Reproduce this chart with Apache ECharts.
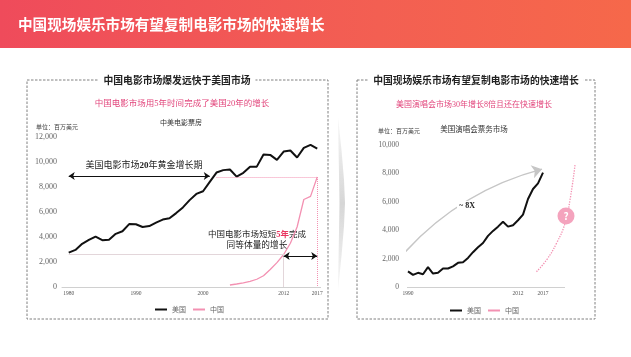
<!DOCTYPE html>
<html><head><meta charset="utf-8">
<script src="https://cdn.jsdelivr.net/npm/echarts@6/dist/echarts.min.js"></script>
<style>html,body{margin:0;padding:0;background:#fff}#c{width:631px;height:357px}</style>
</head><body><div id="c"></div>
<script>
// ---- Left chart: 中美电影票房 (百万美元) ----
const filmYearsUS = [1980,1981,1982,1983,1984,1985,1986,1987,1988,1989,1990,1991,1992,1993,1994,1995,1996,1997,1998,1999,2000,2001,2002,2003,2004,2005,2006,2007,2008,2009,2010,2011,2012,2013,2014,2015,2016,2017];
const filmUS = [2749,2966,3453,3766,4031,3749,3778,4253,4458,5033,5022,4803,4871,5154,5396,5494,5912,6366,6949,7448,7661,8413,9155,9350,9400,8832,9138,9629,9630,10595,10566,10174,10837,10924,10357,11129,11377,11072];
const filmYearsCN = [2004,2005,2006,2007,2008,2009,2010,2011,2012,2013,2014,2015,2016,2017];
const filmCN = [160,240,330,450,620,900,1400,1950,2600,3500,4800,7000,7250,8800];
const filmXTicks = [1980,1990,2000,2012,2017];

// ---- Right chart: 美国演唱会票务市场 (百万美元) ----
const liveYearsUS = [1990,1991,1992,1993,1994,1995,1996,1997,1998,1999,2000,2001,2002,2003,2004,2005,2006,2007,2008,2009,2010,2011,2012,2013,2014,2015,2016,2017];
const liveUS = [1100,850,1000,900,1400,950,1000,1300,1300,1450,1700,1750,2050,2450,2800,3100,3600,3950,4250,4600,4250,4350,4700,5100,6200,6900,7300,8050];
const liveCNX = [2015.7,2017.7,2019.7,2021.4,2022.4,2023.4];
const liveCN = [1080,1900,3080,4480,6130,8590];
const liveXTicks = [1990,2012,2017];

const SERIF = "'Liberation Serif','Noto Sans CJK SC',serif";
const SANS = "'Noto Sans CJK SC',sans-serif";
const PINK = '#f391b2';
const PINKTXT = '#e2467c';

const pairs = (xs, ys) => xs.map((x, i) => [x, ys[i]]);
const fmt = v => v.toLocaleString('en-US');

const chart = echarts.init(document.getElementById('c'), null, {renderer: 'canvas'});

const axisLabelX = (ticks) => ({
  customValues: ticks, formatter: v => String(v), fontSize: 5.5, color: '#555', fontFamily: SERIF, margin: 4
});
const yAxisCommon = (max, fs, margin) => ({
  type: 'value', min: 0, max: max, interval: 2000,
  axisLine: {show: false}, axisTick: {show: false}, splitLine: {show: false},
  axisLabel: {formatter: fmt, fontSize: fs, color: '#666', fontFamily: SERIF, margin: margin}
});

const ml = (a, b, style, sym) => [
  {coord: a, symbol: sym ? sym[0] : 'none', lineStyle: style},
  {coord: b, symbol: sym ? sym[1] : 'none'}
];

const option = {
  animation: false,
  grid: [
    {left: 62, top: 137, width: 258.6, height: 150},
    {left: 407, top: 145, width: 169, height: 142}
  ],
  xAxis: [
    {type: 'value', gridIndex: 0, min: 1979, max: 2017.5,
     axisLine: {show: true, lineStyle: {color: '#d0d0d0'}}, axisTick: {show: false},
     splitLine: {show: false}, axisLabel: axisLabelX(filmXTicks)},
    {type: 'value', gridIndex: 1, min: 1989.8, max: 2023.6,
     axisLine: {show: false}, axisTick: {show: false},
     splitLine: {show: false}, axisLabel: axisLabelX(liveXTicks)}
  ],
  yAxis: [
    Object.assign({gridIndex: 0}, yAxisCommon(12000, 8, 5)),
    Object.assign({gridIndex: 1}, yAxisCommon(10000, 7.5, 8))
  ],
  legend: [
    {left: 150, top: 301, itemGap: 7, itemWidth: 12, itemHeight: 2, icon: 'rect',
     textStyle: {fontSize: 7, color: '#666', fontFamily: SANS}, data: ['美国', '中国'], selectedMode: false},
    {left: 445, top: 302, itemGap: 7, itemWidth: 12, itemHeight: 2, icon: 'rect',
     textStyle: {fontSize: 7, color: '#666', fontFamily: SANS}, data: ['美国', '中国'], selectedMode: false}
  ],
  series: [
    {name: '美国', type: 'line', xAxisIndex: 0, yAxisIndex: 0, data: pairs(filmYearsUS, filmUS),
     showSymbol: false, lineStyle: {color: '#111', width: 2}, itemStyle: {color: '#111'},
     markLine: {silent: true, symbolSize: 6, label: {show: false},
       data: [
         ml([1980, 8880], [2001, 8880], {color: '#111', width: 1, type: 'solid'}, ['arrow', 'arrow']),
         ml([2002, 8800], [2017, 8800], {color: PINK, width: 1, type: 'dotted'}),
         ml([2017, 8800], [2017, 0], {color: PINK, width: 1, type: 'dotted'}),
         ml([1980, 2640], [2012, 2640], {color: '#e3d6da', width: 1, type: 'solid'}),
         ml([2012, 2640], [2012, 0], {color: '#e3d6da', width: 1, type: 'solid'}),
         ml([2012, 2480], [2017, 2480], {color: '#111', width: 1, type: 'solid'}, ['arrow', 'arrow'])
       ]}},
    {name: '中国', type: 'line', xAxisIndex: 0, yAxisIndex: 0, data: pairs(filmYearsCN, filmCN),
     showSymbol: false, lineStyle: {color: PINK, width: 1.3}, itemStyle: {color: PINK}},
    {name: '美国', type: 'line', xAxisIndex: 1, yAxisIndex: 1, data: pairs(liveYearsUS, liveUS),
     showSymbol: false, lineStyle: {color: '#111', width: 2}, itemStyle: {color: '#111'},
     markLine: {silent: true, symbol: 'none', label: {show: false},
       data: [ml([1989.8, 0], [2021.4, 0], {color: '#d0d0d0', width: 1, type: 'solid'})]}},
    {name: '中国', type: 'line', xAxisIndex: 1, yAxisIndex: 1, data: pairs(liveCNX, liveCN),
     showSymbol: false, smooth: true, clip: false, lineStyle: {color: PINK, width: 1.3, type: 'dotted'}, itemStyle: {color: PINK},
     markPoint: {silent: true, symbol: 'circle', symbolSize: 17, itemStyle: {color: '#f4a3bd'},
       label: {show: true, formatter: '?', color: '#fff', fontSize: 10, fontWeight: 'bold', fontFamily: SANS},
       data: [{coord: [2021.6, 5000]}]}},
    {type: 'lines', coordinateSystem: 'cartesian2d', xAxisIndex: 1, yAxisIndex: 1, silent: true,
     symbol: ['none', 'arrow'], symbolSize: 10,
     lineStyle: {color: '#c6c6c6', width: 1.5, curveness: 0.15, opacity: 1},
     data: [{coords: [[1989.0, 2300], [2016.8, 8300]]}]}
  ],
  graphic: [
    {type: 'rect', z: 0, shape: {x: 0, y: 0, width: 631, height: 48},
     style: {fill: new echarts.graphic.LinearGradient(0, 0, 1, 0, [
       {offset: 0, color: '#ef4b5b'}, {offset: 0.6, color: '#f35f52'}, {offset: 1, color: '#f6684a'}])}},
    {type: 'text', z: 1, x: 18, y: 24, style: {text: '中国现场娱乐市场有望复制电影市场的快速增长', fill: '#fff',
      fontSize: 14.6, fontWeight: 'bold', fontFamily: SANS, verticalAlign: 'middle'}},
    // dashed boxes
    {type: 'rect', z: 0, shape: {x: 27, y: 80, width: 301, height: 239},
     style: {fill: 'none', stroke: '#808080', lineWidth: 1, lineDash: [2.5, 1.5]}},
    {type: 'rect', z: 0, shape: {x: 357, y: 80, width: 238, height: 239},
     style: {fill: 'none', stroke: '#808080', lineWidth: 1, lineDash: [2.5, 1.5]}},
    // chevron
    {type: 'polygon', z: 0, shape: {points: [[338, 117], [341.5, 150], [344, 180], [345, 203], [344, 226], [341.5, 256], [338, 290], [339.5, 203]]},
     style: {fill: new echarts.graphic.LinearGradient(0, 0, 0, 1, [
       {offset: 0, color: 'rgba(215,215,215,0.2)'}, {offset: 0.5, color: '#d6d6d6'}, {offset: 1, color: 'rgba(215,215,215,0.2)'}])}},
    // box titles
    {type: 'text', z: 2, x: 177, y: 80, style: {text: '中国电影市场爆发远快于美国市场', fill: '#222', fontSize: 9.8, fontWeight: 'bold',
      fontFamily: SANS, align: 'center', verticalAlign: 'middle', backgroundColor: '#fff', padding: [0, 5]}},
    {type: 'text', z: 2, x: 476, y: 80, style: {text: '中国现场娱乐市场有望复制电影市场的快速增长', fill: '#222', fontSize: 9.8, fontWeight: 'bold',
      fontFamily: SANS, align: 'center', verticalAlign: 'middle', backgroundColor: '#fff', padding: [0, 5]}},
    // left subtitles
    {type: 'text', x: 182, y: 104, style: {text: '中国电影市场用5年时间完成了美国20年的增长', fill: PINKTXT, fontSize: 8.5,
      fontFamily: SERIF, align: 'center', verticalAlign: 'middle'}},
    {type: 'text', x: 181, y: 123, style: {text: '中美电影票房', fill: '#333', fontSize: 7,
      fontFamily: SERIF, align: 'center', verticalAlign: 'middle'}},
    {type: 'text', x: 36, y: 127, style: {text: '单位：百万美元', fill: '#444', fontSize: 6,
      fontFamily: SERIF, align: 'left', verticalAlign: 'middle'}},
    {type: 'text', x: 144, y: 166, style: {text: '美国电影市场{b|20}年黄金增长期', fill: '#222', fontSize: 9,
      fontFamily: SERIF, align: 'center', verticalAlign: 'middle',
      rich: {b: {fontWeight: 'bold', fontSize: 9, fontFamily: SERIF, fill: '#222'}}}},
    {type: 'text', x: 257, y: 235, style: {text: '中国电影市场短短{r|5年}完成', fill: '#222', fontSize: 8.5,
      fontFamily: SERIF, align: 'center', verticalAlign: 'middle', backgroundColor: 'rgba(255,255,255,0.8)',
      rich: {r: {fill: '#e8355f', fontWeight: 'bold', fontSize: 8.5, fontFamily: SERIF}}}},
    {type: 'text', x: 257, y: 245.5, style: {text: '同等体量的增长', fill: '#222', fontSize: 8.7,
      fontFamily: SERIF, align: 'center', verticalAlign: 'middle'}},
    // right subtitles
    {type: 'text', x: 474, y: 105, style: {text: '美国演唱会市场30年增长8倍且还在快速增长', fill: PINKTXT, fontSize: 8,
      fontFamily: SERIF, align: 'center', verticalAlign: 'middle'}},
    {type: 'text', x: 474, y: 130, style: {text: '美国演唱会票务市场', fill: '#333', fontSize: 7.5,
      fontFamily: SERIF, align: 'center', verticalAlign: 'middle'}},
    {type: 'text', x: 378, y: 131, style: {text: '单位：百万美元', fill: '#444', fontSize: 6,
      fontFamily: SERIF, align: 'left', verticalAlign: 'middle'}},
    {type: 'text', z: 10, x: 467, y: 206, style: {text: '~ 8X', fill: '#222', fontSize: 8, fontWeight: 'bold',
      fontFamily: SERIF, align: 'center', verticalAlign: 'middle', backgroundColor: '#fff', padding: [1, 2]}}
  ]
};
chart.setOption(option);
</script>
</body></html>
